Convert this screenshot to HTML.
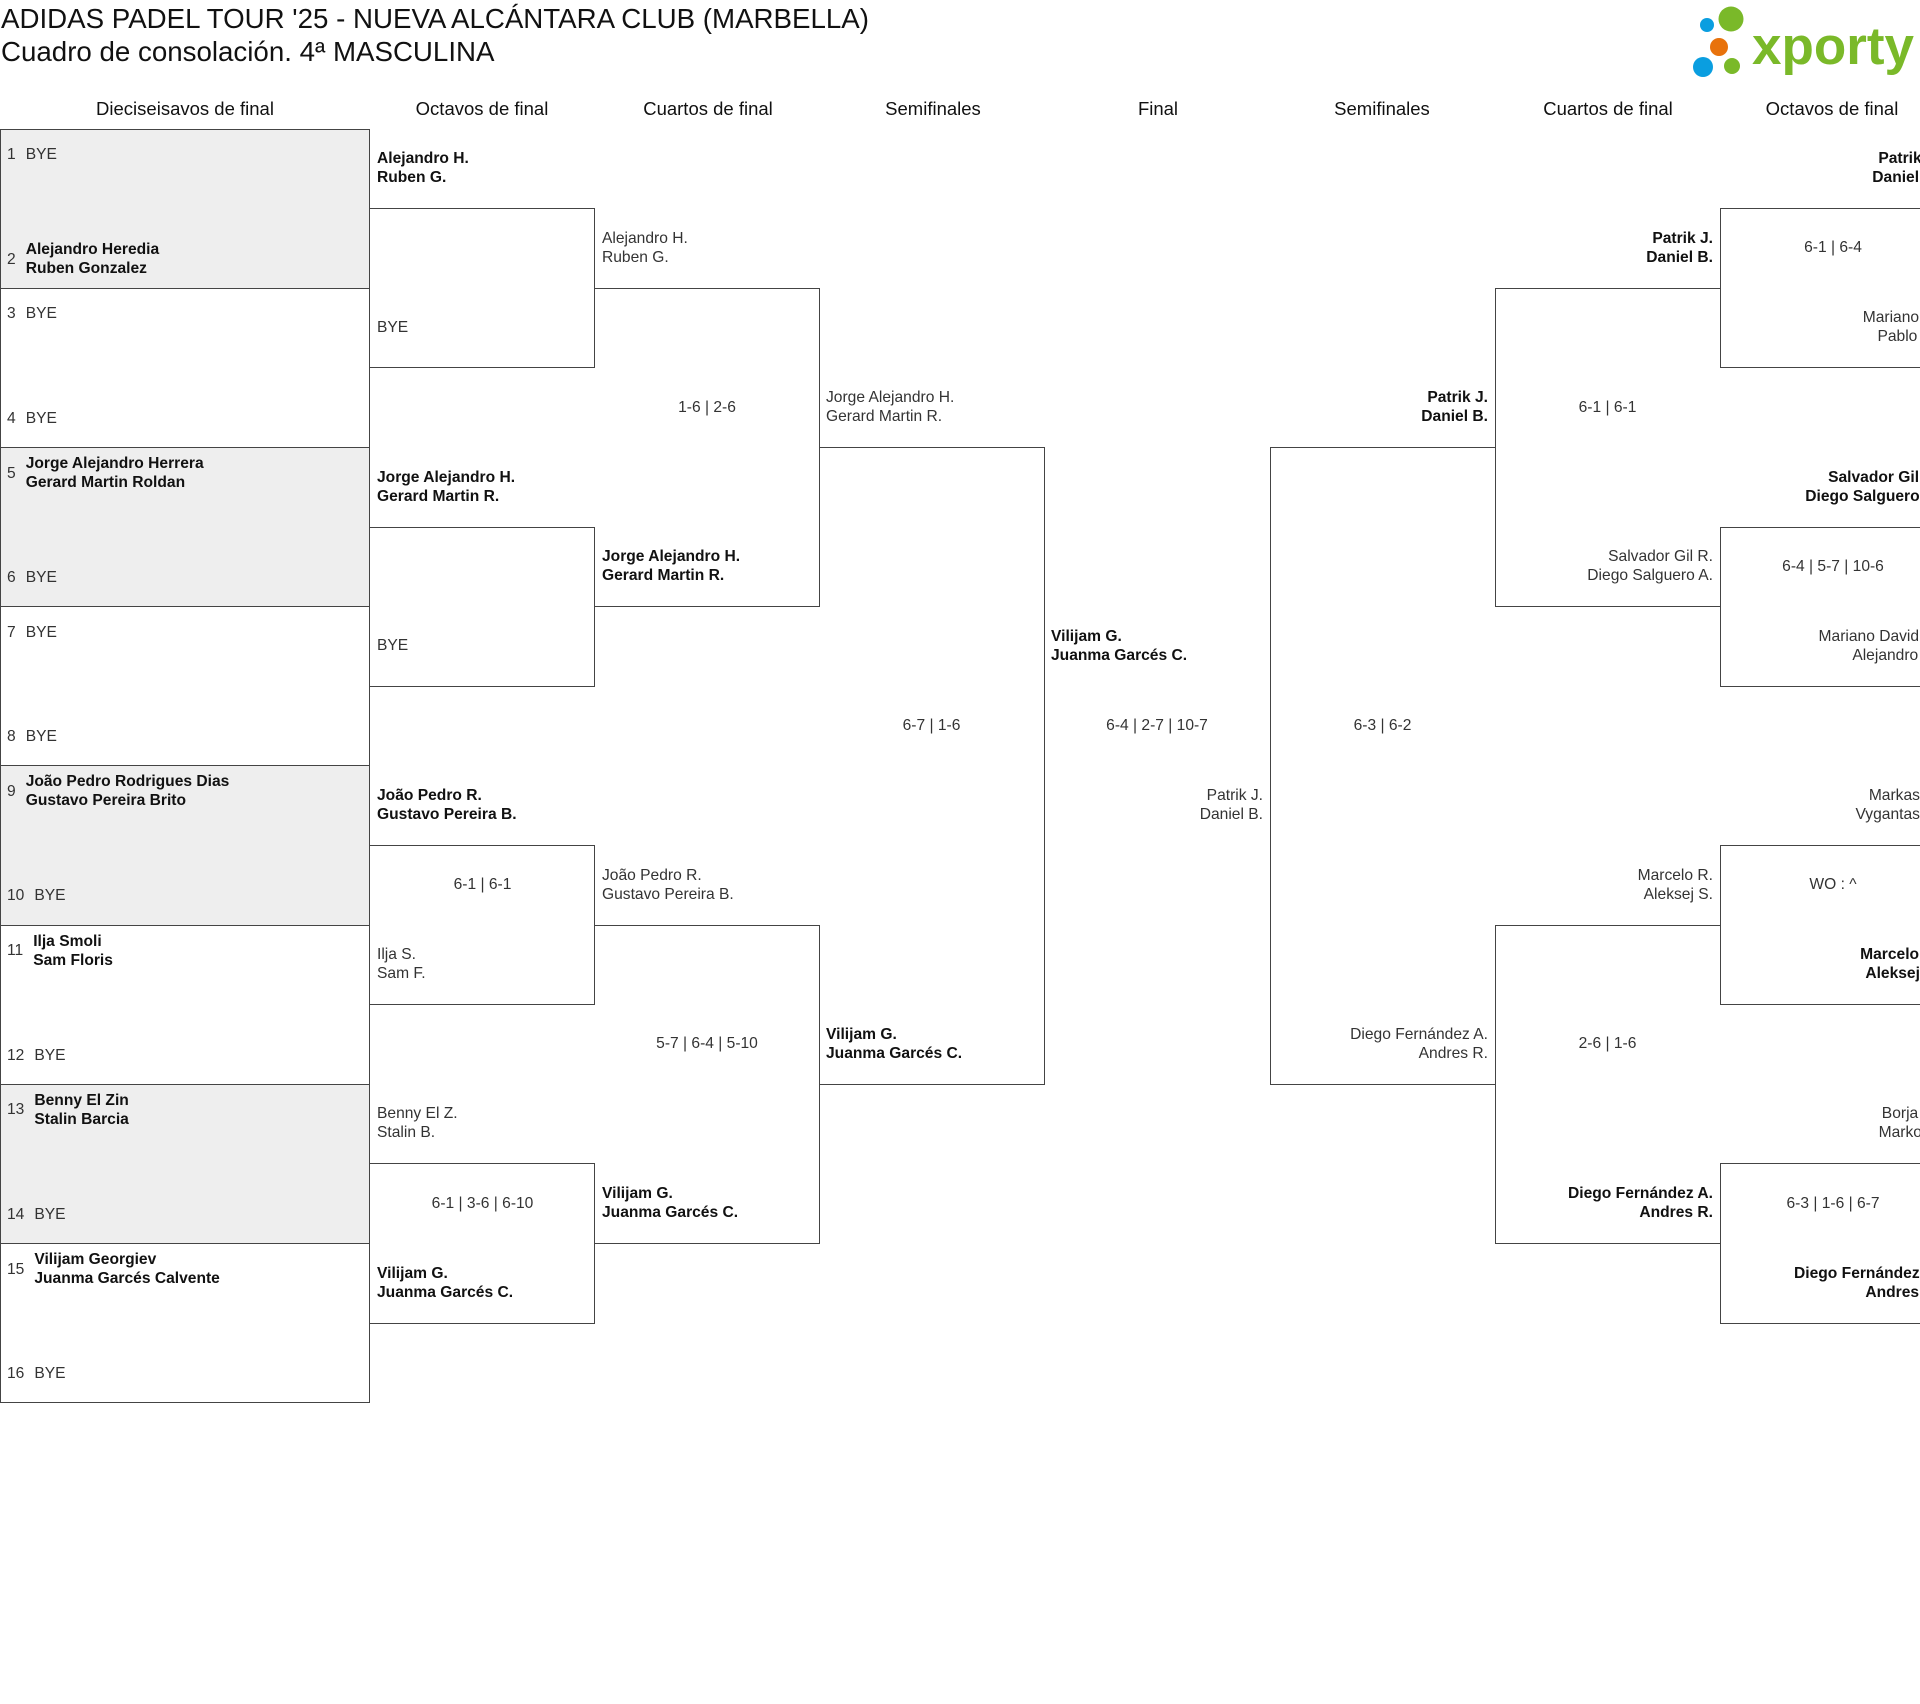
<!DOCTYPE html>
<html><head><meta charset="utf-8"><style>
html,body{margin:0;padding:0;background:#fff;}
body{width:1920px;height:1704px;position:relative;overflow:hidden;font-family:"Liberation Sans",sans-serif;color:#333;}
.b{position:absolute;border:1px solid #444;box-sizing:border-box;}
.nl{border-left:none;}
.nr{border-right:none;}
.g{background:#eee;}
.t{position:absolute;height:60px;display:flex;flex-direction:column;justify-content:center;font-size:15.6px;line-height:19px;white-space:nowrap;}
.L{align-items:flex-start;}
.R{align-items:flex-end;text-align:right;}
.C{align-items:center;}
.bd{font-weight:bold;color:#111;}
.h{position:absolute;top:98px;font-size:18.5px;color:#111;text-align:center;width:240px;}
.s{position:absolute;left:7px;display:flex;align-items:center;height:60px;font-size:15.6px;line-height:19px;white-space:nowrap;}
.s .n{margin-right:10px;}
</style></head><body>
<div style="position:absolute;left:1px;top:2px;font-size:27.7px;color:#111;line-height:33px;">ADIDAS PADEL TOUR '25 - NUEVA ALCÁNTARA CLUB (MARBELLA)<br>Cuadro de consolación. 4ª MASCULINA</div>
<svg style="position:absolute;left:1690px;top:0" width="230" height="90">
<circle cx="41" cy="19" r="12.5" fill="#7ab929"/>
<circle cx="17" cy="25" r="7" fill="#0a9ee0"/>
<circle cx="29" cy="47" r="9" fill="#e8720c"/>
<circle cx="13" cy="67" r="10" fill="#0a9ee0"/>
<circle cx="42" cy="66" r="8" fill="#7ab929"/>
<text x="62" y="64" font-family="Liberation Sans" font-weight="bold" font-size="53" fill="#7ab929">xporty</text>
</svg>
<div class="h" style="left:65px">Dieciseisavos de final</div>
<div class="h" style="left:362px">Octavos de final</div>
<div class="h" style="left:588px">Cuartos de final</div>
<div class="h" style="left:813px">Semifinales</div>
<div class="h" style="left:1038px">Final</div>
<div class="h" style="left:1262px">Semifinales</div>
<div class="h" style="left:1488px">Cuartos de final</div>
<div class="h" style="left:1712px">Octavos de final</div>

<!-- R1 boxes -->
<div class="b g" style="left:0;top:128.6px;width:370px;height:160.2px"></div>
<div class="b" style="left:0;top:287.8px;width:370px;height:160.2px"></div>
<div class="b g" style="left:0;top:447px;width:370px;height:160.2px"></div>
<div class="b" style="left:0;top:606.2px;width:370px;height:160.2px"></div>
<div class="b g" style="left:0;top:765.4px;width:370px;height:160.2px"></div>
<div class="b" style="left:0;top:924.6px;width:370px;height:160.2px"></div>
<div class="b g" style="left:0;top:1083.8px;width:370px;height:160.2px"></div>
<div class="b" style="left:0;top:1243px;width:370px;height:160.2px"></div>
<!-- R2 left -->
<div class="b nl" style="left:369px;top:208.2px;width:226px;height:160.2px"></div>
<div class="b nl" style="left:369px;top:526.6px;width:226px;height:160.2px"></div>
<div class="b nl" style="left:369px;top:845px;width:226px;height:160.2px"></div>
<div class="b nl" style="left:369px;top:1163.4px;width:226px;height:160.2px"></div>
<!-- R3 left -->
<div class="b nl" style="left:594px;top:287.8px;width:226px;height:319.4px"></div>
<div class="b nl" style="left:594px;top:924.6px;width:226px;height:319.4px"></div>
<!-- Semis -->
<div class="b nl" style="left:819px;top:447px;width:226px;height:637.8px"></div>
<div class="b nr" style="left:1270px;top:447px;width:226px;height:637.8px"></div>
<!-- R3 right -->
<div class="b nr" style="left:1495px;top:287.8px;width:226px;height:319.4px"></div>
<div class="b nr" style="left:1495px;top:924.6px;width:226px;height:319.4px"></div>
<!-- R2 right -->
<div class="b nr" style="left:1720px;top:208.2px;width:300px;height:160.2px"></div>
<div class="b nr" style="left:1720px;top:526.6px;width:300px;height:160.2px"></div>
<div class="b nr" style="left:1720px;top:845px;width:300px;height:160.2px"></div>
<div class="b nr" style="left:1720px;top:1163.4px;width:300px;height:160.2px"></div>

<!-- R1 slots -->
<div class="s" style="top:124.6px"><span class="n">1</span><span>BYE</span></div>
<div class="s" style="top:229.2px"><span class="n">2</span><span class="bd">Alejandro Heredia<br>Ruben Gonzalez</span></div>
<div class="s" style="top:283.8px"><span class="n">3</span><span>BYE</span></div>
<div class="s" style="top:388.4px"><span class="n">4</span><span>BYE</span></div>
<div class="s" style="top:443px"><span class="n">5</span><span class="bd">Jorge Alejandro Herrera<br>Gerard Martin Roldan</span></div>
<div class="s" style="top:547.6px"><span class="n">6</span><span>BYE</span></div>
<div class="s" style="top:602.2px"><span class="n">7</span><span>BYE</span></div>
<div class="s" style="top:706.8px"><span class="n">8</span><span>BYE</span></div>
<div class="s" style="top:761.4px"><span class="n">9</span><span class="bd">João Pedro Rodrigues Dias<br>Gustavo Pereira Brito</span></div>
<div class="s" style="top:865.6px"><span class="n">10</span><span>BYE</span></div>
<div class="s" style="top:920.6px"><span class="n">11</span><span class="bd">Ilja Smoli<br>Sam Floris</span></div>
<div class="s" style="top:1025.2px"><span class="n">12</span><span>BYE</span></div>
<div class="s" style="top:1079.8px"><span class="n">13</span><span class="bd">Benny El Zin<br>Stalin Barcia</span></div>
<div class="s" style="top:1184.4px"><span class="n">14</span><span>BYE</span></div>
<div class="s" style="top:1239px"><span class="n">15</span><span class="bd">Vilijam Georgiev<br>Juanma Garcés Calvente</span></div>
<div class="s" style="top:1343.6px"><span class="n">16</span><span>BYE</span></div>

<!-- R2 left -->
<div class="t L bd" style="left:377px;top:138.2px">Alejandro H.<br>Ruben G.</div>
<div class="t L" style="left:377px;top:297.4px">BYE</div>
<div class="t L bd" style="left:377px;top:456.6px">Jorge Alejandro H.<br>Gerard Martin R.</div>
<div class="t L" style="left:377px;top:615.8px">BYE</div>
<div class="t L bd" style="left:377px;top:775px">João Pedro R.<br>Gustavo Pereira B.</div>
<div class="t C" style="left:370px;width:225px;top:854.6px">6-1 | 6-1</div>
<div class="t L" style="left:377px;top:934.2px">Ilja S.<br>Sam F.</div>
<div class="t L" style="left:377px;top:1093.4px">Benny El Z.<br>Stalin B.</div>
<div class="t C" style="left:370px;width:225px;top:1173px">6-1 | 3-6 | 6-10</div>
<div class="t L bd" style="left:377px;top:1252.6px">Vilijam G.<br>Juanma Garcés C.</div>
<!-- R3 left -->
<div class="t L" style="left:602px;top:217.8px">Alejandro H.<br>Ruben G.</div>
<div class="t C" style="left:595px;width:224px;top:377px">1-6 | 2-6</div>
<div class="t L bd" style="left:602px;top:536.2px">Jorge Alejandro H.<br>Gerard Martin R.</div>
<div class="t L" style="left:602px;top:854.6px">João Pedro R.<br>Gustavo Pereira B.</div>
<div class="t C" style="left:595px;width:224px;top:1013.8px">5-7 | 6-4 | 5-10</div>
<div class="t L bd" style="left:602px;top:1173px">Vilijam G.<br>Juanma Garcés C.</div>
<!-- Semi L -->
<div class="t L" style="left:826px;top:377px">Jorge Alejandro H.<br>Gerard Martin R.</div>
<div class="t C" style="left:819px;width:225px;top:695.4px">6-7 | 1-6</div>
<div class="t L bd" style="left:826px;top:1013.8px">Vilijam G.<br>Juanma Garcés C.</div>
<!-- Final -->
<div class="t L bd" style="left:1051px;top:616px">Vilijam G.<br>Juanma Garcés C.</div>
<div class="t C" style="left:1044px;width:226px;top:695.4px">6-4 | 2-7 | 10-7</div>
<div class="t R" style="right:657px;top:775.4px">Patrik J.<br>Daniel B.</div>
<!-- Semi R -->
<div class="t R bd" style="right:432px;top:377px">Patrik J.<br>Daniel B.</div>
<div class="t C" style="left:1270px;width:225px;top:695.4px">6-3 | 6-2</div>
<div class="t R" style="right:432px;top:1013.8px">Diego Fernández A.<br>Andres R.</div>
<!-- R3 right -->
<div class="t R bd" style="right:207px;top:217.8px">Patrik J.<br>Daniel B.</div>
<div class="t C" style="left:1495px;width:225px;top:377px">6-1 | 6-1</div>
<div class="t R" style="right:207px;top:536.2px">Salvador Gil R.<br>Diego Salguero A.</div>
<div class="t R" style="right:207px;top:854.6px">Marcelo R.<br>Aleksej S.</div>
<div class="t C" style="left:1495px;width:225px;top:1013.8px">2-6 | 1-6</div>
<div class="t R bd" style="right:207px;top:1173px">Diego Fernández A.<br>Andres R.</div>
<!-- R2 right -->
<div class="t R bd" style="right:-19px;top:138.2px">Patrik J.<br>Daniel B.</div>
<div class="t C" style="left:1720px;width:226px;top:217.8px">6-1 | 6-4</div>
<div class="t R" style="right:-19px;top:297.4px">Mariano D.<br>Pablo M.</div>
<div class="t R bd" style="right:-19px;top:456.6px">Salvador Gil R.<br>Diego Salguero A.</div>
<div class="t C" style="left:1720px;width:226px;top:536.2px">6-4 | 5-7 | 10-6</div>
<div class="t R" style="right:-19px;top:615.8px">Mariano David R.<br>Alejandro G.</div>
<div class="t R" style="right:-19px;top:775px">Markas B.<br>Vygantas K.</div>
<div class="t C" style="left:1720px;width:226px;top:854.6px">WO : ^</div>
<div class="t R bd" style="right:-19px;top:934.2px">Marcelo R.<br>Aleksej S.</div>
<div class="t R" style="right:-19px;top:1093.4px">Borja G.<br>Marko P.</div>
<div class="t C" style="left:1720px;width:226px;top:1173px">6-3 | 1-6 | 6-7</div>
<div class="t R bd" style="right:-19px;top:1252.6px">Diego Fernández A.<br>Andres R.</div>
</body></html>
